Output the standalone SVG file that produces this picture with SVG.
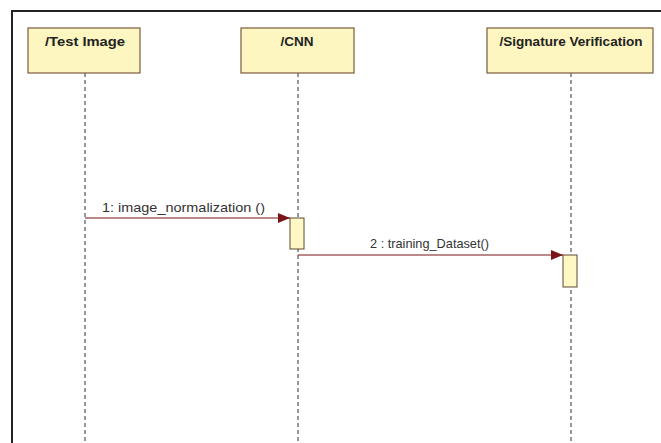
<svg xmlns="http://www.w3.org/2000/svg" width="661" height="443" viewBox="0 0 661 443">
  <defs>
    <marker id="arrow" viewBox="0 0 12 10" refX="12" refY="5" markerWidth="12" markerHeight="10" markerUnits="userSpaceOnUse" orient="auto">
      <path d="M0,0 L12,5 L0,10 Z" fill="#7a1418"/>
    </marker>
  </defs>
  <style>
    .frame { stroke: #222; stroke-width: 2; fill: none; }
    .obj { fill: #fdf6c0; stroke: #7a5a3c; stroke-width: 1.2; }
    .title { font-family: "Liberation Sans", Arial, sans-serif; font-size: 13.5px; font-weight: bold; fill: #222; text-anchor: middle; }
    .life { stroke: #333; stroke-width: 1; stroke-dasharray: 4 3; fill: none; }
    .act { fill: #fff8c4; stroke: #5a4a30; stroke-width: 1; }
    .msg { stroke: #7a1418; stroke-width: 1.2; fill: none; }
    .label { font-family: "Liberation Sans", Arial, sans-serif; font-size: 13px; fill: #333; }
  </style>
  <rect width="661" height="443" fill="#ffffff"/>
  <!-- diagram frame (top and left edges) -->
  <path class="frame" d="M12,443 V11 H661"/>

  <!-- lifelines -->
  <g id="lifelines">
    <line class="life" x1="85" y1="73" x2="85" y2="443"/>
    <line class="life" x1="298" y1="73" x2="298" y2="443"/>
    <line class="life" x1="571" y1="73" x2="571" y2="443"/>
  </g>

  <g id="test-image">
    <rect class="obj" x="28" y="28" width="112" height="45"/>
    <text class="title" x="85" y="46" textLength="80" lengthAdjust="spacingAndGlyphs">/Test Image</text>
  </g>
  <g id="cnn">
    <rect class="obj" x="241" y="28" width="113" height="45"/>
    <text class="title" x="297" y="46">/CNN</text>
    <rect class="act" x="290" y="218" width="14" height="31"/>
  </g>
  <g id="signature-verification">
    <rect class="obj" x="487" y="28" width="166" height="45"/>
    <text class="title" x="571" y="46" textLength="143" lengthAdjust="spacingAndGlyphs">/Signature Verification</text>
    <rect class="act" x="563" y="255" width="14" height="32"/>
  </g>

  <g id="connectors">
    <line class="msg" x1="85" y1="218" x2="290" y2="218" marker-end="url(#arrow)"/>
    <text class="label" x="102" y="212" textLength="163" lengthAdjust="spacingAndGlyphs">1: image_normalization ()</text>
    <line class="msg" x1="298" y1="255" x2="563" y2="255" marker-end="url(#arrow)"/>
    <text class="label" x="370" y="248" textLength="119" lengthAdjust="spacingAndGlyphs">2 : training_Dataset()</text>
  </g>
</svg>
